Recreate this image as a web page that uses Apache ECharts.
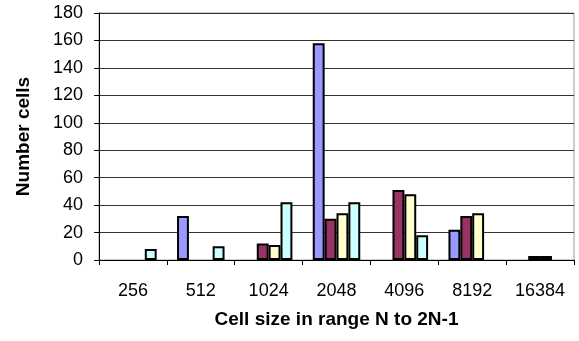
<!DOCTYPE html>
<html><head><meta charset="utf-8">
<script src="https://cdn.jsdelivr.net/npm/echarts@6/dist/echarts.min.js"></script>
<style>html,body{margin:0;padding:0;background:#fff}#c{width:579px;height:341px}</style>
</head><body><div id="c"></div>
<script>
var categories = ['256','512','1024','2048','4096','8192','16384'];
var seriesA = [null, 32, null, 158, null, 22, null];
var seriesB = [null, null, 12, 30, 51, 32, 3];
var seriesC = [null, null, 11, 34, 48, 34, 3];
var seriesD = [8, 10, 42, 42, 18, null, null];
var yTicks = {min: 0, max: 180, interval: 20};
var colors = ['#9999FF', '#993366', '#FFFFCC', '#CCFFFF'];
var font = '"Liberation Sans", Arial, sans-serif';
var chart = echarts.init(document.getElementById('c'), null, {renderer: 'canvas'});
function mk(data, i) {
  return {type: 'bar', data: data, barGap: '0%', barCategoryGap: '30%',
    itemStyle: {color: colors[i], borderColor: '#000', borderWidth: 2},
    animation: false};
}
chart.setOption({
  animation: false,
  grid: {left: 99, right: 5, top: 13, bottom: 81, show: true, borderColor: '#999', borderWidth: 1},
  xAxis: {type: 'category', data: categories,
    axisLine: {lineStyle: {color: '#000', width: 1}},
    axisTick: {show: true, length: 5, lineStyle: {color: '#000'}},
    axisLabel: {color: '#000', fontFamily: font, fontSize: 18, margin: 22, interval: 0},
    name: 'Cell size in range N to 2N-1', nameLocation: 'middle', nameGap: 50,
    nameTextStyle: {color: '#000', fontFamily: font, fontSize: 19, fontWeight: 'bold'}},
  yAxis: {type: 'value', min: yTicks.min, max: yTicks.max, interval: yTicks.interval,
    axisLine: {show: true, lineStyle: {color: '#000', width: 1}},
    axisTick: {show: true, length: 5, lineStyle: {color: '#000'}},
    splitLine: {lineStyle: {color: '#333', width: 1}},
    axisLabel: {color: '#000', fontFamily: font, fontSize: 18, margin: 16},
    name: 'Number cells', nameLocation: 'middle', nameGap: 66,
    nameTextStyle: {color: '#000', fontFamily: font, fontSize: 19, fontWeight: 'bold'}},
  series: [mk(seriesA, 0), mk(seriesB, 1), mk(seriesC, 2), mk(seriesD, 3)]
});
</script></body></html>
